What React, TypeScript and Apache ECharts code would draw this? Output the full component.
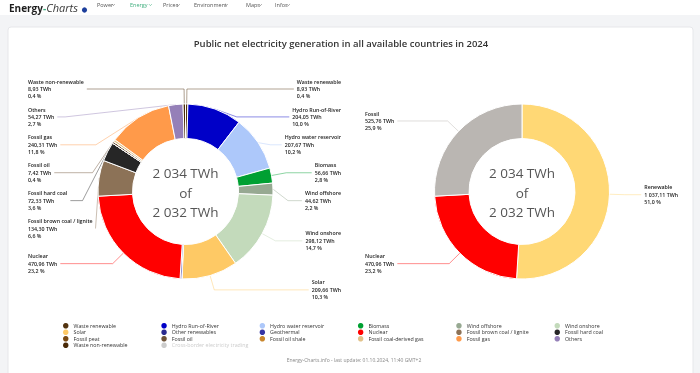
import React, { useEffect, useRef } from "react";
import * as echarts from "echarts";

// ---------- texts ----------
const TITLE = "Public net electricity generation in all available countries in 2024";
const CENTER_TEXT = ["2 034 TWh", "of", "2 032 TWh"];
const FOOTER = "Energy-Charts.info - last update: 01.10.2024, 11:40 GMT+2";
const NAV_ITEMS = ["Power", "Energy", "Prices", "Environment", "Maps", "Infos"];
const INACTIVE_SERIES = "Cross-border electricity trading";

// ---------- data: sources (left donut) ----------
const sourceNames = [
  "Waste renewable",
  "Hydro Run-of-River",
  "Hydro water reservoir",
  "Biomass",
  "Wind offshore",
  "Wind onshore",
  "Solar",
  "Other renewables",
  "Geothermal",
  "Nuclear",
  "Fossil brown coal / lignite",
  "Fossil hard coal",
  "Fossil peat",
  "Fossil oil",
  "Fossil oil shale",
  "Fossil coal-derived gas",
  "Fossil gas",
  "Others",
  "Waste non-renewable",
  "Cross-border electricity trading",
];
const sourceValues = [
  8.93, 204.05, 207.67, 56.66, 44.62, 298.12, 209.66, 1.2, 6.2, 470.96, 134.3,
  72.33, 0, 7.42, 0, 8.2, 240.31, 54.27, 8.93, 0,
];
const sourceColors = [
  "#533410", "#0000c8", "#adc8fa", "#00a032", "#97a992", "#c3dabb", "#fec965",
  "#2b2b8f", "#3535a5", "#ff0000", "#8c7257", "#262626", "#7b4a12", "#6e5338",
  "#c9862c", "#e2c28a", "#ff9a4a", "#9580b8", "#4a2a08", "#cccccc",
];
const sourceLabelled = [
  true, true, true, true, true, true, true, false, false, true, true, true,
  false, true, false, false, true, true, true, false,
];

// ---------- data: groups (right donut) ----------
const groupNames = ["Renewable", "Nuclear", "Fossil"];
const groupValues = [1037.11, 470.96, 525.76];
const groupColors = ["#ffd875", "#ff0000", "#bab6b2"];

// ---------- helpers ----------
const FONT = "'Open Sans', 'Noto Sans', sans-serif";
const sum = (a: number[]) => a.reduce((s, v) => s + v, 0);

function fmtTWh(v: number): string {
  const [i, d] = v.toFixed(2).split(".");
  const int = i.replace(/\B(?=(\d{3})+(?!\d))/g, " ");
  return `${int},${d}`;
}
function fmtPct(v: number, total: number): string {
  return ((v / total) * 100).toFixed(1).replace(".", ",");
}

const labelTok = {
  fontSize: 5.3,
  fontFamily: FONT,
  fontWeight: 600,
  color: "#222",
  lineHeight: 7.4,
  align: "left",
};

function makeLabel(total: number) {
  return {
    show: true,
    position: "outer",
    alignTo: "edge",
    edgeDistance: 0,
    bleedMargin: 0,
    distanceToLabelLine: 3,
    overflow: "none",
    padding: [1.85, 0, 1.85, 0],
    backgroundColor: "rgba(255,255,255,0)",
    fontSize: 5.3,
    fontFamily: FONT,
    fontWeight: 600,
    color: "#222",
    lineHeight: 7.4,
    formatter: (p: any) =>
      `{n|${p.name}}\n{v|${fmtTWh(p.value)} TWh}\n{v|${fmtPct(p.value, total)} %}`,
    rich: { n: labelTok, v: labelTok },
  };
}

const labelLine = {
  length: 15,
  length2: 0,
  lineStyle: { width: 1, opacity: 0.45 },
};

function buildOption() {
  const sourceTotal = sum(sourceValues);
  const groupTotal = sum(groupValues);

  const navX = [97, 130, 163, 194, 246, 275];
  const chevronX = [112, 149, 177, 225, 259, 287];

  const graphics: any[] = [
    { type: "rect", z: -10, shape: { x: 0, y: 0, width: 700, height: 373 }, style: { fill: "#f3f4f6" } },
    { type: "rect", z: -9, shape: { x: 0, y: 0, width: 700, height: 15 }, style: { fill: "#ffffff" } },
    {
      type: "rect",
      z: -9,
      shape: { x: 8, y: 27, width: 685, height: 360, r: 3 },
      style: { fill: "#ffffff", stroke: "#e6e7ea", lineWidth: 1 },
    },
    {
      type: "text",
      x: 9,
      y: 7.5,
      style: {
        text: "{a|Energy}{b|-}{c|Charts}",
        verticalAlign: "middle",
        rich: {
          a: { fontSize: 10, fontWeight: "bold", fontFamily: FONT, fill: "#1e1e1e" },
          b: { fontSize: 10, fontWeight: "bold", fontFamily: FONT, fill: "#3fae7e" },
          c: { fontSize: 11, fontStyle: "italic", fontFamily: FONT, fill: "#3a3a3a" },
        },
      },
    },
    { type: "circle", shape: { cx: 84.5, cy: 10, r: 2.6 }, style: { fill: "#1d3f9c" } },
  ];

  NAV_ITEMS.forEach((t, i) => {
    const active = t === "Energy";
    graphics.push({
      type: "text",
      x: navX[i],
      y: 5,
      style: {
        text: t,
        fontSize: 5.5,
        fontFamily: FONT,
        fill: active ? "#3fae7e" : "#555",
        verticalAlign: "middle",
      },
    });
    graphics.push({
      type: "polyline",
      shape: { points: [[chevronX[i], 4.2], [chevronX[i] + 1.4, 5.6], [chevronX[i] + 2.8, 4.2]] },
      style: { stroke: active ? "#3fae7e" : "#666", lineWidth: 0.6, fill: null },
    });
  });

  graphics.push({
    type: "text",
    x: 341,
    y: 43,
    style: {
      text: TITLE,
      fontSize: 9.5,
      fontWeight: 600,
      fontFamily: FONT,
      fill: "#333",
      align: "center",
      verticalAlign: "middle",
    },
  });

  [185.5, 522].forEach((cx) => {
    graphics.push({
      type: "text",
      x: cx,
      y: 192.5,
      z: 10,
      style: {
        text: CENTER_TEXT.join("\n"),
        fontSize: 13.5,
        lineHeight: 19.5,
        fontFamily: FONT,
        fill: "#555",
        align: "center",
        verticalAlign: "middle",
      },
    });
  });

  graphics.push({
    type: "text",
    x: 354,
    y: 360,
    style: {
      text: FOOTER,
      fontSize: 5,
      fontFamily: FONT,
      fill: "#888",
      align: "center",
      verticalAlign: "middle",
    },
  });

  return {
    animation: false,
    graphic: graphics,
    legend: {
      data: sourceNames,
      left: 63,
      top: 323,
      width: 600,
      padding: 0,
      orient: "horizontal",
      icon: "circle",
      itemWidth: 5.5,
      itemHeight: 5.5,
      itemGap: 1,
      inactiveColor: "#cccccc",
      inactiveBorderWidth: 0,
      itemStyle: { borderWidth: 0 },
      selected: { [INACTIVE_SERIES]: false },
      formatter: "{n|{name}}",
      textStyle: {
        fontSize: 5.3,
        fontFamily: FONT,
        color: "#333",
        lineHeight: 5.5,
        rich: { n: { width: 86.8, fontSize: 5.3, fontFamily: FONT, lineHeight: 5.5 } },
      },
    },
    series: [
      {
        type: "pie",
        name: "sources",
        left: 28,
        top: 0,
        width: 313,
        height: 373,
        center: [157.5, 191.5],
        radius: [53, 87.5],
        startAngle: 90,
        clockwise: true,
        avoidLabelOverlap: true,
        itemStyle: { borderColor: "#ffffff", borderWidth: 1 },
        emphasis: { scale: false },
        label: makeLabel(sourceTotal),
        labelLine,
        data: sourceNames.map((n, i) => ({
          name: n,
          value: sourceValues[i],
          itemStyle: { color: sourceColors[i] },
          ...(sourceLabelled[i] ? {} : { label: { show: false }, labelLine: { show: false } }),
        })),
      },
      {
        type: "pie",
        name: "groups",
        left: 365,
        top: 0,
        width: 313,
        height: 373,
        center: [157, 191.5],
        radius: [53, 87.5],
        startAngle: 90,
        clockwise: true,
        avoidLabelOverlap: true,
        itemStyle: { borderColor: "#ffffff", borderWidth: 1 },
        emphasis: { scale: false },
        label: makeLabel(groupTotal),
        labelLine,
        data: groupNames.map((n, i) => ({
          name: n,
          value: groupValues[i],
          itemStyle: { color: groupColors[i] },
        })),
      },
    ],
  };
}

export default function App() {
  const ref = useRef<HTMLDivElement>(null);
  useEffect(() => {
    const chart = echarts.init(ref.current!, null, { renderer: "svg" });
    chart.setOption(buildOption() as any);
    return () => chart.dispose();
  }, []);
  return (
    <div
      ref={ref}
      style={{ position: "fixed", left: 0, top: 0, width: 700, height: 373 }}
    />
  );
}
